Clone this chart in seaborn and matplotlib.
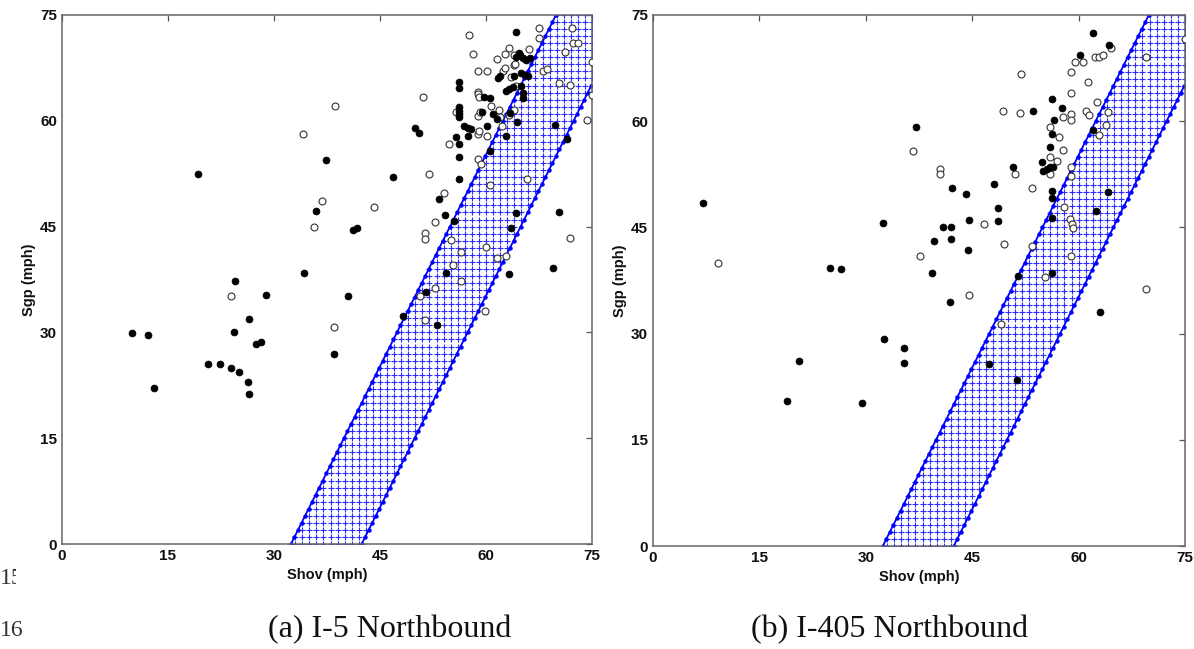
import numpy as np
import pandas as pd
import matplotlib
matplotlib.use("Agg")
import matplotlib.pyplot as plt
import seaborn as sns
from matplotlib.patches import Rectangle

# ---------------- data ----------------
# (a) I-5 Northbound
i5_filled_shov = [9.95, 12.2, 13.0, 19.2, 20.7, 22.3, 23.9, 25.1, 26.3, 26.4, 24.3, 24.5, 26.4, 27.5, 28.2, 28.8,
                  37.4, 46.8, 36.0, 41.2, 41.8, 34.2, 40.5, 38.5, 48.2, 53.0, 51.5,
                  53.3, 54.2, 55.5, 54.4,
                  49.9, 50.5, 56.2, 56.2, 56.2, 56.2, 56.2, 56.2, 56.9, 57.4, 57.9, 55.8, 57.4, 56.2, 56.2, 56.2,
                  59.7, 60.6, 59.5, 61.0, 61.5, 60.1, 60.5, 62.9, 63.4, 64.4,
                  64.3, 63.5, 63.2, 69.8, 71.5, 70.4, 69.5,
                  64.2, 61.7, 62.0, 62.8, 63.3, 63.8, 64.3, 64.7, 64.8, 65.3, 65.7, 66.2, 65.0, 65.5, 66.0, 63.9,
                  65.0, 65.2, 65.3]
i5_filled_sgp = [29.9, 29.7, 22.1, 52.5, 25.5, 25.5, 25.0, 24.4, 22.9, 21.2, 30.1, 37.3, 31.9, 28.3, 28.6, 35.3,
                 54.4, 52.1, 47.2, 44.5, 44.8, 38.4, 35.2, 26.9, 32.3, 31.1, 35.7,
                 48.9, 46.6, 45.8, 38.4,
                 59.0, 58.2, 65.5, 64.7, 61.9, 61.4, 60.9, 60.6, 59.2, 59.0, 58.8, 57.7, 57.8, 56.7, 54.9, 51.7,
                 63.4, 63.3, 61.2, 60.9, 60.2, 59.2, 55.7, 57.9, 61.1, 59.8,
                 46.9, 44.8, 38.3, 59.4, 57.4, 47.0, 39.2,
                 72.6, 66.1, 66.4, 64.2, 64.5, 64.8, 69.0, 69.6, 69.3, 68.9, 68.6, 68.9, 66.8, 66.5, 66.3, 66.4,
                 65.0, 63.9, 63.3]
i5_open_shov = [23.9, 34.1, 38.7, 36.8, 35.6, 44.2, 38.5,
                51.1, 51.9, 54.1, 52.8, 51.4, 51.3, 55.0, 56.4, 55.4, 56.4, 52.8, 50.7, 51.4, 59.9,
                55.8, 54.8, 58.9, 58.9, 59.0, 60.7, 58.9, 59.2, 61.9, 62.0, 58.8, 59.0, 60.1, 58.9, 59.3,
                62.2, 63.3, 64.0,
                60.6, 65.8, 60.0, 61.5, 62.9, 71.9, 74.3, 75.0, 75.0,
                57.6, 58.1, 67.5, 67.5, 72.2, 72.3, 73.0, 71.2, 58.9, 60.2, 61.6, 62.7, 63.2, 66.1, 62.4,
                62.7, 63.5, 63.9, 64.1, 63.9, 64.3, 68.0, 68.7, 70.4, 71.9]
i5_open_sgp = [35.1, 58.1, 62.1, 48.6, 45.0, 47.8, 30.7,
               63.4, 52.4, 49.8, 45.6, 44.1, 43.3, 43.1, 41.4, 39.5, 37.3, 36.3, 35.1, 31.7, 33.0,
               61.3, 56.7, 64.1, 63.8, 63.4, 62.1, 60.7, 61.3, 61.5, 60.6, 58.1, 58.5, 57.8, 54.6, 53.9,
               59.2, 60.8, 61.5,
               50.9, 51.7, 42.1, 40.5, 40.9, 43.4, 60.1, 68.3, 63.7,
               72.2, 69.4, 73.1, 71.8, 73.2, 71.0, 71.0, 69.8, 67.0, 67.0, 68.7, 69.5, 70.3, 70.2, 67.1,
               67.5, 66.2, 67.9, 68.1, 69.3, 65.0, 67.0, 67.4, 65.3, 65.1]

# (b) I-405 Northbound
i405_filled_shov = [7.1, 25.0, 26.5, 32.4, 32.5, 20.6, 18.9, 29.5, 41.9, 35.4, 35.4, 47.4, 51.3, 63.0,
                    56.2, 53.6, 56.6, 37.1, 56.2, 55.9, 54.9, 50.7, 55.0, 55.5, 56.0, 56.4, 48.1, 42.1, 44.1,
                    56.2, 56.2, 48.7, 48.6, 44.5, 40.9, 42.0, 42.0, 39.6, 44.4, 39.4, 56.2, 51.5, 56.2,
                    62.0, 64.3, 60.2, 57.7, 62.0, 64.2, 62.4]
i405_filled_sgp = [48.5, 39.2, 39.1, 45.6, 29.3, 26.1, 20.5, 20.2, 34.4, 28.0, 25.9, 25.7, 23.4, 33.0,
                   63.2, 61.4, 60.2, 59.2, 58.2, 56.3, 54.2, 53.6, 53.0, 53.2, 53.5, 53.6, 51.1, 50.6, 49.7,
                   50.1, 49.2, 47.7, 45.9, 46.1, 45.1, 45.1, 43.4, 43.1, 41.8, 38.5, 46.3, 38.1, 38.5,
                   72.5, 70.8, 69.3, 61.8, 58.8, 50.0, 47.3]
i405_open_shov = [9.1, 44.6, 49.0, 69.5, 51.9, 49.4, 51.7, 55.9, 57.3, 36.6, 55.9, 56.9, 40.4, 40.4, 51.1,
                  56.0, 53.5, 46.6, 49.5, 37.6, 53.4, 55.3,
                  64.5, 59.5, 60.6, 62.3, 62.9, 63.4, 69.5, 75.0, 58.9, 61.3, 58.9, 62.6, 61.1, 61.5, 64.2,
                  57.8, 58.9, 58.9, 63.8, 62.9, 57.8, 58.9, 58.9, 58.0, 58.8, 59.0, 59.2, 58.9]
i405_open_sgp = [40.0, 35.5, 31.3, 36.3, 66.7, 61.5, 61.2, 59.2, 57.7, 55.8, 55.0, 54.4, 53.3, 52.5, 52.5,
                 52.5, 50.6, 45.5, 42.7, 40.9, 42.4, 38.0,
                 70.3, 68.3, 68.3, 69.0, 69.1, 69.4, 69.1, 71.6, 66.9, 65.6, 64.0, 62.7, 61.4, 60.9, 61.3,
                 60.6, 61.0, 60.2, 59.5, 58.0, 56.0, 53.5, 52.2, 47.9, 46.2, 45.5, 44.9, 40.9]

# band: Sgp = slope * (Shov - offset), between two offsets
band_slope = 2.0
band_offsets = [32.4, 42.4]

axis_ticks = [0, 15, 30, 45, 60, 75]
captions = ["(a) I-5 Northbound", "(b) I-405 Northbound"]
line_numbers = ["15", "16"]

# ---------------- style ----------------
sns.set_style("white")
plt.rcParams["font.family"] = ["Liberation Sans", "DejaVu Sans"]

fig = plt.figure(figsize=(11.94, 6.49), dpi=100)
W, H = 1194, 649
ax1 = fig.add_axes([62 / W, (H - 544) / H, 530 / W, 529 / H])
ax2 = fig.add_axes([653 / W, (H - 546) / H, 532 / W, 531 / H])

BLUE = "#0000ff"


def draw_panel(ax, fx, fy, ox, oy):
    lo, hi = band_offsets
    # plus-sign fill inside band
    gx, gy = [], []
    for yv in range(0, 76):
        xa = lo + yv / band_slope
        xb = hi + yv / band_slope
        for xv in range(int(np.ceil(xa)), int(np.floor(xb)) + 1):
            if xv <= 75 and xa < xv < xb:
                gx.append(xv)
                gy.append(yv)
    sns.scatterplot(x=gx, y=gy, marker="+", color="#2a2aff", s=15, linewidth=0.8, ax=ax, zorder=1,
                    legend=False)
    # boundary lines with dot markers
    yl = np.arange(0, 76)
    for off in band_offsets:
        xl = off + yl / band_slope
        sns.lineplot(x=xl, y=yl, sort=False, estimator=None, color=BLUE, linewidth=1.3,
                     marker="o", markersize=2.4, markeredgecolor=BLUE, ax=ax, zorder=2, legend=False)
    # observations
    sns.scatterplot(x=ox, y=oy, marker="o", s=25, facecolor="white", edgecolor="#333333",
                    linewidth=0.8, ax=ax, zorder=3, legend=False)
    sns.scatterplot(x=fx, y=fy, marker="o", s=25, color="black", edgecolor="black",
                    linewidth=0.5, ax=ax, zorder=4, legend=False)

    ax.set_xlim(0, 75)
    ax.set_ylim(0, 75)
    ax.set_xticks(axis_ticks)
    ax.set_yticks(axis_ticks)
    ax.tick_params(direction="in", length=4, width=0.9, top=True, right=True, labelsize=11,
                   pad=3.5, color="#555555", labelcolor="#111111")
    for lbl in ax.get_xticklabels() + ax.get_yticklabels():
        lbl.set_fontweight("bold")
    for sp in ax.spines.values():
        sp.set_color("#666666")
        sp.set_linewidth(1.1)
    ax.set_xlabel("Shov (mph)", fontsize=10.5, fontweight="bold", labelpad=4, color="#111111")
    ax.set_ylabel("Sgp (mph)", fontsize=10.5, fontweight="bold", labelpad=3, color="#111111")


draw_panel(ax1, i5_filled_shov, i5_filled_sgp, i5_open_shov, i5_open_sgp)
draw_panel(ax2, i405_filled_shov, i405_filled_sgp, i405_open_shov, i405_open_sgp)

serif = ["Liberation Serif", "DejaVu Serif"]
fig.text(390 / W, 1 - 630 / H, captions[0], ha="center", va="center", family=serif, fontsize=23,
         color="#111111")
fig.text(890 / W, 1 - 630 / H, captions[1], ha="center", va="center", family=serif, fontsize=23,
         color="#111111")
fig.text(0 / W, 1 - 578 / H, line_numbers[0], ha="left", va="center", family=serif, fontsize=17,
         color="#333333")
fig.text(0 / W, 1 - 630 / H, line_numbers[1], ha="left", va="center", family=serif, fontsize=17,
         color="#333333")
fig.patches.append(Rectangle((16 / W, 1 - 595 / H), 40 / W, 30 / H, transform=fig.transFigure,
                             facecolor="white", edgecolor="none", zorder=5))

fig.savefig("out.png", dpi=100)
